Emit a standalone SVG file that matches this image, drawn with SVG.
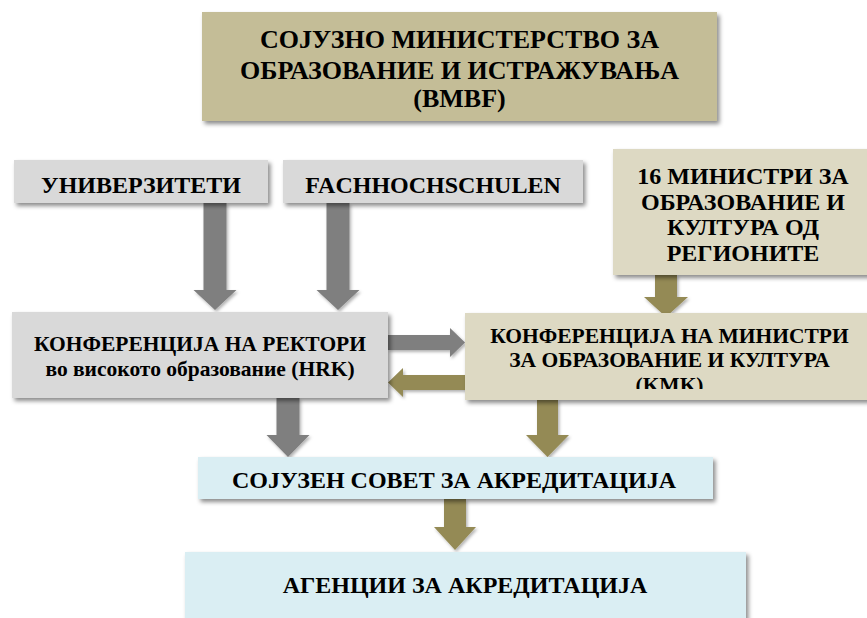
<svg xmlns="http://www.w3.org/2000/svg" width="867" height="618" viewBox="0 0 867 618">
  <defs>
    <filter id="sh" x="-10%" y="-20%" width="130%" height="150%">
      <feDropShadow dx="2.5" dy="3" stdDeviation="2" flood-color="#000" flood-opacity="0.45"/>
    </filter>
    <filter id="ash" x="-30%" y="-30%" width="160%" height="160%">
      <feDropShadow dx="1.5" dy="2" stdDeviation="1.5" flood-color="#000" flood-opacity="0.3"/>
    </filter>
    <clipPath id="kmkclip">
      <rect x="465" y="313" width="410" height="76"/>
    </clipPath>
  </defs>
  <style>
    text { font-family: "Liberation Serif", "Times New Roman", "DejaVu Serif", serif; font-weight: bold; fill: #000; text-anchor: middle; }
    .box { filter: url(#sh); }
    .tan { fill: #C4BD97; }
    .ltan { fill: #DDD9C3; }
    .gray { fill: #D9D9D9; }
    .blue { fill: #DAEEF3; }
    .ag { fill: #7F7F7F; filter: url(#ash); }
    .ao { fill: #948A54; filter: url(#ash); }
    .t26 { font-size: 26px; }
    .t24 { font-size: 24px; }
    .t21 { font-size: 21.5px; }
  </style>
  <rect width="867" height="618" fill="#fff"/>

  <g id="connectors">
    <polygon class="ag" points="203.5,203 226.5,203 226.5,290 236.5,290 215,310 193.5,290 203.5,290"/>
    <polygon class="ag" points="326.5,203 349.5,203 349.5,290 359.5,290 338,310 316.5,290 326.5,290"/>
    <polygon class="ao" points="655,275 677,275 677,297 688,297 666,317 644,297 655,297"/>
    <polygon class="ag" points="388,335 450,335 450,328 465,342.5 450,357 450,350 388,350"/>
    <polygon class="ao" points="466,375 403,375 403,368 388,382.5 403,397 403,390 466,390"/>
    <polygon class="ag" points="276.5,398 299.5,398 299.5,435 309.5,435 288,457 266.5,435 276.5,435"/>
    <polygon class="ao" points="537,400 558,400 558,435 569,435 547.5,457 526,435 537,435"/>
    <polygon class="ao" points="444,499 466,499 466,527 476,527 455,550 434,527 444,527"/>
  </g>

  <g id="bmbf">
    <rect class="box tan" x="202" y="12" width="515" height="109"/>
    <text class="t26" x="459.5" y="47.5">СОЈУЗНО МИНИСТЕРСТВО ЗА</text>
    <text class="t26" x="459.5" y="78.5">ОБРАЗОВАНИЕ И ИСТРАЖУВАЊА</text>
    <text class="t26" x="459.5" y="107">(BMBF)</text>
  </g>

  <g id="univerziteti">
    <rect class="box gray" x="14" y="160" width="254" height="43"/>
    <text class="t24" x="141" y="193">УНИВЕРЗИТЕТИ</text>
  </g>

  <g id="fachhochschulen">
    <rect class="box gray" x="283" y="160" width="300" height="43"/>
    <text class="t24" x="433" y="193">FACHHOCHSCHULEN</text>
  </g>

  <g id="ministri16">
    <rect class="box ltan" x="613" y="149" width="262" height="126"/>
    <text class="t24" x="743" y="184">16 МИНИСТРИ ЗА</text>
    <text class="t24" x="743" y="209.5">ОБРАЗОВАНИЕ И</text>
    <text class="t24" x="743" y="235">КУЛТУРА ОД</text>
    <text class="t24" x="743" y="260.5">РЕГИОНИТЕ</text>
  </g>

  <g id="hrk">
    <rect class="box gray" x="12" y="312" width="376" height="86"/>
    <text class="t21" x="200" y="351">КОНФЕРЕНЦИЈА НА РЕКТОРИ</text>
    <text class="t21" x="200" y="376">во високото образование (HRK)</text>
  </g>

  <g id="kmk">
    <rect class="box ltan" x="465" y="313" width="410" height="87"/>
    <g clip-path="url(#kmkclip)">
      <text class="t21" x="669.5" y="343">КОНФЕРЕНЦИЈА НА МИНИСТРИ</text>
      <text class="t21" x="669.5" y="366.5">ЗА ОБРАЗОВАНИЕ И КУЛТУРА</text>
      <text class="t21" x="669.5" y="391.5">(KMK)</text>
    </g>
  </g>

  <g id="sojuzen-sovet">
    <rect class="box blue" x="198" y="457" width="515" height="42"/>
    <text class="t24" x="454" y="488">СОЈУЗЕН СОВЕТ ЗА АКРЕДИТАЦИЈА</text>
  </g>

  <g id="agencii">
    <rect class="box blue" x="185" y="552" width="561" height="80"/>
    <text class="t24" x="465" y="593">АГЕНЦИИ ЗА АКРЕДИТАЦИЈА</text>
  </g>
</svg>
